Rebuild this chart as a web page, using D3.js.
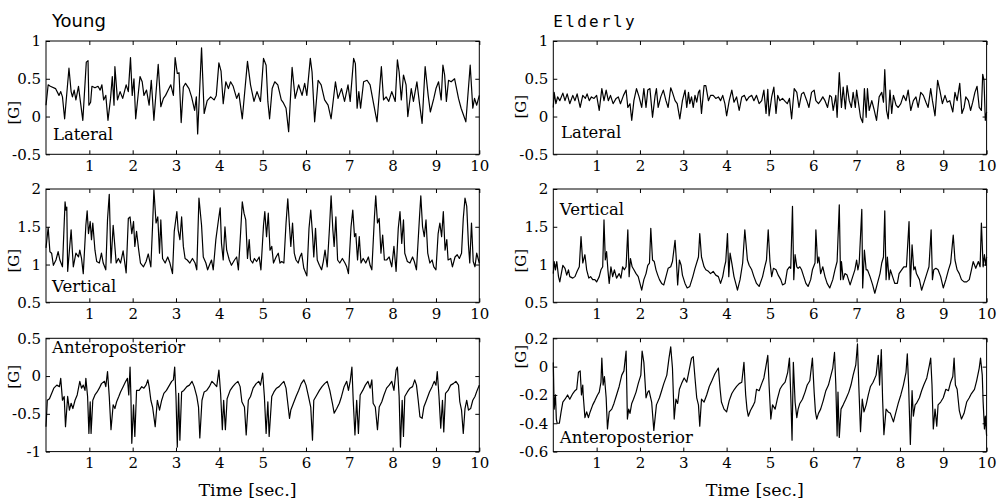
<!DOCTYPE html>
<html>
<head>
<meta charset="utf-8">
<script src="https://cdn.jsdelivr.net/npm/d3@7"></script>
<style>
  body { margin: 0; background: #fff; }
  .tick text { font-family: "DejaVu Serif", serif; font-size: 15px; fill: #000; }
  .tick line { stroke: #000; stroke-width: 1; }
</style>
</head>
<body>
<div id="main"></div>
<script>
var ctx = {
    w: 1002,
    h: 502,
    colX: [46, 553.3],
    rowY: [41, 189, 338.3],
    pw: 433.3,
    ph: 113.3,
    tickLen: 4,
};

var timeTicks = [1, 2, 3, 4, 5, 6, 7, 8, 9, 10];
var groupTitles = ["Young", "Elderly"];
var axisNames = ["Lateral", "Vertical", "Anteroposterior"];

// [time (s), acceleration (G)]
var youngLateral = [[0,0.15],[0.05,0.42],[0.10,0.40],[0.22,0.37],[0.30,0.28],[0.34,0.33],[0.38,0.26],[0.43,-0.03],[0.53,0.64],[0.58,0.33],[0.61,0.26],[0.65,0.35],[0.69,0.22],[0.75,0.40],[0.80,0.17],[0.85,-0.05],[0.93,0.72],[0.97,0.74],[0.99,0.15],[1.03,0.19],[1.06,0.40],[1.13,0.38],[1.20,0.40],[1.25,0.35],[1.29,0.42],[1.33,0.22],[1.38,0.28],[1.43,-0.05],[1.49,0.24],[1.53,0.53],[1.57,0.15],[1.59,0.66],[1.65,0.22],[1.71,0.33],[1.77,0.24],[1.85,0.42],[1.90,0.33],[1.95,0.78],[1.99,0.28],[2.03,0.50],[2.07,-0.03],[2.17,0.53],[2.22,0.46],[2.26,0.28],[2.32,0.35],[2.38,0.15],[2.43,0.48],[2.49,-0.05],[2.59,0.69],[2.65,0.13],[2.71,0.24],[2.76,0.28],[2.82,0.35],[2.88,0.42],[2.94,0.28],[2.98,0.78],[3.03,0.57],[3.07,0.58],[3.12,-0.08],[3.17,0.39],[3.22,0.44],[3.30,0.37],[3.36,0.26],[3.43,0.08],[3.47,0.26],[3.50,-0.23],[3.59,0.91],[3.65,0.04],[3.72,0.21],[3.80,0.26],[3.88,0.22],[3.93,0.28],[3.99,0.71],[4.04,0.60],[4.09,0.17],[4.15,0.46],[4.21,0.37],[4.26,0.46],[4.32,0.40],[4.40,0.24],[4.45,0.31],[4.53,-0.03],[4.65,0.73],[4.72,0.42],[4.80,0.20],[4.87,0.33],[4.95,0.20],[5.02,0.77],[5.08,0.68],[5.12,0.20],[5.16,-0.03],[5.22,0.37],[5.28,0.46],[5.35,0.42],[5.43,0.22],[5.48,0.18],[5.54,0.11],[5.60,-0.20],[5.68,0.65],[5.75,0.24],[5.83,0.42],[5.91,0.28],[5.97,0.44],[6.02,0.28],[6.10,0.77],[6.14,0.59],[6.20,-0.07],[6.28,0.48],[6.35,0.42],[6.43,0.22],[6.51,0.15],[6.58,-0.03],[6.68,0.46],[6.74,0.24],[6.82,0.37],[6.89,0.20],[6.97,0.42],[7.02,0.20],[7.10,0.77],[7.14,0.70],[7.18,0.11],[7.22,0.33],[7.26,0.11],[7.33,0.46],[7.41,0.48],[7.48,0.42],[7.56,0.17],[7.64,-0.07],[7.74,0.66],[7.79,0.22],[7.85,0.26],[7.91,0.20],[7.98,0.33],[8.06,0.20],[8.11,0.75],[8.15,0.59],[8.20,0.22],[8.25,0.55],[8.31,0.42],[8.35,0.0],[8.43,0.37],[8.48,0.20],[8.56,0.46],[8.62,0.17],[8.68,-0.09],[8.75,0.66],[8.82,0.28],[8.87,0.06],[8.95,0.24],[9.00,0.37],[9.06,0.46],[9.12,0.22],[9.16,0.68],[9.20,0.55],[9.24,0.20],[9.29,0.48],[9.35,0.46],[9.43,0.50],[9.52,0.24],[9.58,0.11],[9.69,-0.07],[9.79,0.68],[9.85,0.11],[9.89,0.24],[9.94,0.15],[10.0,0.28]];

var youngVertical = [[0,1.22],[0.05,1.49],[0.09,1.17],[0.13,1.15],[0.17,0.99],[0.23,1.06],[0.28,1.17],[0.32,1.06],[0.38,0.97],[0.44,1.83],[0.46,1.72],[0.48,1.76],[0.50,0.91],[0.58,1.46],[0.63,0.97],[0.69,1.15],[0.75,1.10],[0.78,1.19],[0.82,1.08],[0.86,0.88],[0.92,1.52],[0.95,1.71],[0.98,1.41],[1.02,1.57],[1.05,1.33],[1.08,1.55],[1.13,1.19],[1.17,1.04],[1.23,1.02],[1.28,1.15],[1.32,1.02],[1.38,0.93],[1.42,1.60],[1.46,1.93],[1.50,1.02],[1.55,1.52],[1.62,1.02],[1.67,1.08],[1.72,1.02],[1.78,1.18],[1.85,0.89],[1.90,1.61],[1.94,1.63],[1.98,1.41],[2.02,1.57],[2.05,1.24],[2.09,1.44],[2.14,1.19],[2.18,1.02],[2.25,0.97],[2.31,1.04],[2.36,1.14],[2.42,0.97],[2.46,1.52],[2.49,1.99],[2.54,1.55],[2.58,1.63],[2.62,1.15],[2.65,1.59],[2.69,1.08],[2.75,1.02],[2.81,1.10],[2.86,1.02],[2.92,0.88],[2.96,1.44],[3.02,1.70],[3.05,1.46],[3.09,1.33],[3.13,1.63],[3.17,1.24],[3.21,1.08],[3.26,1.06],[3.32,1.02],[3.38,1.08],[3.44,1.02],[3.48,0.93],[3.53,1.88],[3.59,1.52],[3.63,1.10],[3.69,1.02],[3.73,0.93],[3.77,0.99],[3.82,1.06],[3.86,0.93],[3.92,1.33],[3.98,1.59],[4.02,1.75],[4.05,1.28],[4.09,1.06],[4.13,1.50],[4.17,1.19],[4.23,1.06],[4.28,0.99],[4.35,1.06],[4.40,1.10],[4.44,0.93],[4.49,1.41],[4.53,1.83],[4.57,1.68],[4.61,1.59],[4.65,1.08],[4.69,1.33],[4.72,1.06],[4.77,1.02],[4.81,1.08],[4.86,1.04],[4.92,1.10],[4.96,0.93],[5.02,1.52],[5.05,1.70],[5.09,1.37],[5.13,1.68],[5.17,1.19],[5.21,1.24],[5.25,1.02],[5.31,1.10],[5.36,1.15],[5.40,1.02],[5.44,1.04],[5.49,1.02],[5.54,1.55],[5.58,1.87],[5.62,1.50],[5.65,1.24],[5.69,1.55],[5.73,1.15],[5.77,1.06],[5.82,1.02],[5.86,1.10],[5.90,1.15],[5.95,0.95],[6.02,0.85],[6.07,1.48],[6.11,1.72],[6.15,1.41],[6.18,1.10],[6.22,1.48],[6.26,1.06],[6.31,0.99],[6.36,0.93],[6.40,1.04],[6.44,1.19],[6.49,0.97],[6.54,1.46],[6.58,1.91],[6.62,1.46],[6.65,1.24],[6.69,1.63],[6.73,1.06],[6.78,1.02],[6.84,1.08],[6.90,1.02],[6.94,0.97],[6.98,0.88],[7.04,1.50],[7.08,1.72],[7.12,1.37],[7.15,1.41],[7.19,1.06],[7.23,1.37],[7.27,1.02],[7.32,1.08],[7.38,1.02],[7.44,1.10],[7.48,0.99],[7.52,0.93],[7.58,1.63],[7.61,1.91],[7.65,1.55],[7.69,1.61],[7.73,1.15],[7.77,1.39],[7.81,1.06],[7.86,1.06],[7.92,1.10],[7.98,0.97],[8.03,1.24],[8.08,0.91],[8.13,1.48],[8.17,1.70],[8.21,1.28],[8.25,1.59],[8.28,1.15],[8.34,1.04],[8.40,1.02],[8.46,1.10],[8.50,1.04],[8.55,0.93],[8.62,1.63],[8.65,1.91],[8.69,1.50],[8.73,1.37],[8.77,1.59],[8.81,1.15],[8.86,1.02],[8.91,1.06],[8.95,0.97],[9.00,0.93],[9.05,1.41],[9.09,1.55],[9.13,1.37],[9.17,1.70],[9.21,1.19],[9.25,1.33],[9.28,1.06],[9.34,1.08],[9.38,0.97],[9.44,1.10],[9.49,1.13],[9.54,1.08],[9.59,1.15],[9.63,1.61],[9.67,1.88],[9.71,1.77],[9.75,1.26],[9.78,1.02],[9.82,1.55],[9.86,1.04],[9.90,0.97],[9.94,1.15],[10.0,1.02]];

var youngAP = [[0,-0.67],[0.03,-0.32],[0.08,-0.30],[0.13,-0.23],[0.18,-0.16],[0.25,-0.12],[0.31,-0.14],[0.34,-0.03],[0.38,-0.32],[0.42,-0.27],[0.45,-0.67],[0.50,-0.27],[0.54,-0.45],[0.58,-0.36],[0.62,-0.43],[0.67,-0.32],[0.72,-0.25],[0.78,-0.07],[0.82,-0.16],[0.86,-0.12],[0.90,-0.19],[0.92,-0.03],[0.96,-0.27],[0.99,-0.76],[1.02,-0.34],[1.04,-0.76],[1.08,-0.32],[1.13,-0.25],[1.18,-0.21],[1.23,-0.16],[1.28,-0.10],[1.35,-0.07],[1.38,-0.14],[1.42,0.06],[1.46,-0.27],[1.50,-0.71],[1.55,-0.38],[1.59,-0.43],[1.63,-0.34],[1.68,-0.27],[1.72,-0.21],[1.78,-0.14],[1.84,-0.07],[1.88,-0.03],[1.91,-0.25],[1.94,0.12],[1.96,-0.27],[1.98,-0.89],[2.02,-0.38],[2.05,-0.80],[2.09,-0.19],[2.15,-0.19],[2.21,-0.14],[2.26,-0.16],[2.31,-0.12],[2.35,-0.05],[2.38,-0.14],[2.42,-0.32],[2.46,-0.41],[2.52,-0.67],[2.57,-0.32],[2.62,-0.45],[2.67,-0.32],[2.72,-0.23],[2.78,-0.19],[2.85,-0.12],[2.90,-0.07],[2.94,-0.05],[2.97,0.12],[3.00,-0.27],[3.03,-0.94],[3.06,-0.23],[3.09,-0.85],[3.13,-0.21],[3.18,-0.19],[3.25,-0.14],[3.31,-0.12],[3.37,-0.07],[3.42,-0.14],[3.48,-0.27],[3.52,-0.41],[3.55,-0.82],[3.60,-0.32],[3.65,-0.21],[3.71,-0.19],[3.77,-0.14],[3.83,-0.07],[3.88,-0.10],[3.94,-0.14],[3.99,0.08],[4.03,-0.23],[4.07,-0.71],[4.10,-0.32],[4.14,-0.71],[4.18,-0.30],[4.25,-0.19],[4.31,-0.14],[4.37,-0.10],[4.43,-0.07],[4.48,-0.14],[4.52,-0.34],[4.58,-0.41],[4.62,-0.78],[4.67,-0.32],[4.72,-0.27],[4.78,-0.16],[4.85,-0.10],[4.91,-0.07],[4.95,-0.12],[5.00,0.04],[5.04,-0.27],[5.08,-0.76],[5.12,-0.34],[5.15,-0.80],[5.21,-0.27],[5.26,-0.21],[5.32,-0.16],[5.38,-0.14],[5.44,-0.10],[5.49,-0.07],[5.54,-0.16],[5.58,-0.36],[5.62,-0.56],[5.65,-0.45],[5.71,-0.36],[5.77,-0.27],[5.83,-0.19],[5.89,-0.10],[5.95,-0.05],[6.00,-0.12],[6.05,-0.25],[6.11,-0.41],[6.15,-0.85],[6.18,-0.32],[6.25,-0.25],[6.31,-0.19],[6.37,-0.14],[6.43,-0.10],[6.49,-0.07],[6.55,-0.19],[6.61,-0.36],[6.65,-0.49],[6.71,-0.43],[6.77,-0.36],[6.82,-0.27],[6.88,-0.14],[6.94,-0.07],[6.98,-0.19],[7.02,-0.07],[7.06,0.12],[7.09,-0.32],[7.13,-0.78],[7.17,-0.32],[7.21,-0.76],[7.25,-0.25],[7.31,-0.19],[7.37,-0.12],[7.43,-0.07],[7.48,-0.16],[7.52,-0.05],[7.55,-0.36],[7.60,-0.41],[7.65,-0.71],[7.69,-0.41],[7.75,-0.34],[7.80,-0.25],[7.86,-0.16],[7.92,-0.12],[7.98,-0.07],[8.03,-0.19],[8.08,0.08],[8.11,0.12],[8.15,-0.27],[8.18,-0.94],[8.22,-0.32],[8.25,-0.80],[8.28,-0.27],[8.34,-0.21],[8.40,-0.16],[8.46,-0.14],[8.51,-0.05],[8.55,-0.12],[8.59,-0.32],[8.63,-0.54],[8.68,-0.56],[8.72,-0.41],[8.78,-0.32],[8.85,-0.21],[8.91,-0.14],[8.96,-0.07],[9.00,-0.12],[9.03,0.06],[9.07,-0.27],[9.11,-0.69],[9.15,-0.32],[9.18,-0.74],[9.22,-0.23],[9.28,-0.19],[9.34,-0.12],[9.40,-0.10],[9.46,-0.07],[9.52,-0.12],[9.55,-0.34],[9.59,-0.45],[9.63,-0.76],[9.67,-0.43],[9.71,-0.32],[9.75,-0.45],[9.80,-0.43],[9.85,-0.32],[9.90,-0.27],[9.95,-0.19],[10.0,-0.12]];

var elderLateral = [[0,0.12],[0.02,0.32],[0.06,0.17],[0.10,0.26],[0.15,0.21],[0.22,0.31],[0.27,0.21],[0.32,0.30],[0.38,0.17],[0.45,0.28],[0.50,0.21],[0.55,0.30],[0.62,0.12],[0.68,0.28],[0.74,0.24],[0.78,0.30],[0.83,0.21],[0.88,0.26],[0.94,0.24],[1.00,0.28],[1.06,0.08],[1.12,0.37],[1.17,0.21],[1.22,0.35],[1.27,0.21],[1.32,0.28],[1.38,0.17],[1.45,0.24],[1.50,0.26],[1.55,0.17],[1.62,0.28],[1.68,0.35],[1.72,0.12],[1.77,0.17],[1.81,-0.05],[1.86,0.21],[1.92,0.37],[1.98,0.26],[2.04,0.12],[2.09,0.37],[2.14,0.12],[2.18,0.35],[2.23,0.37],[2.29,-0.01],[2.35,0.28],[2.38,0.37],[2.42,0.12],[2.48,0.26],[2.54,0.35],[2.60,0.21],[2.65,0.12],[2.71,0.38],[2.75,0.32],[2.81,0.21],[2.86,0.17],[2.92,-0.03],[2.98,0.21],[3.04,0.35],[3.08,0.12],[3.12,0.32],[3.15,0.17],[3.19,0.26],[3.23,0.12],[3.27,0.28],[3.31,0.19],[3.35,0.32],[3.38,0.35],[3.42,0.04],[3.48,0.41],[3.52,0.41],[3.58,0.21],[3.63,0.28],[3.69,0.28],[3.75,0.24],[3.81,0.26],[3.86,0.21],[3.91,0.28],[3.96,0.17],[4.00,0.01],[4.06,0.21],[4.12,0.35],[4.17,0.19],[4.23,0.26],[4.29,0.08],[4.35,0.26],[4.41,0.28],[4.46,0.21],[4.52,0.26],[4.58,0.28],[4.63,0.21],[4.69,0.28],[4.75,0.17],[4.81,0.21],[4.86,0.35],[4.91,0.04],[4.95,0.36],[4.98,0.01],[5.04,0.26],[5.09,0.39],[5.14,0.04],[5.18,0.28],[5.23,0.21],[5.29,0.24],[5.35,0.20],[5.40,0.17],[5.45,0.24],[5.50,-0.03],[5.56,0.37],[5.62,0.32],[5.67,0.12],[5.73,0.30],[5.78,0.32],[5.85,0.21],[5.90,0.12],[5.96,0.32],[6.02,0.35],[6.06,0.21],[6.12,0.17],[6.17,0.21],[6.22,0.26],[6.27,0.21],[6.33,0.12],[6.38,0.28],[6.42,0.26],[6.46,0.08],[6.52,0.28],[6.55,-0.01],[6.60,0.58],[6.65,0.12],[6.69,0.39],[6.74,0.10],[6.78,0.41],[6.83,0.21],[6.88,0.12],[6.92,0.32],[6.97,0.12],[7.00,0.35],[7.04,0.19],[7.09,-0.01],[7.14,-0.08],[7.18,0.37],[7.22,-0.01],[7.25,0.37],[7.29,0.08],[7.35,0.21],[7.40,0.10],[7.46,-0.05],[7.52,0.26],[7.58,0.32],[7.62,0.19],[7.65,0.62],[7.69,0.08],[7.73,-0.03],[7.77,0.35],[7.81,0.04],[7.85,0.28],[7.91,0.15],[7.96,0.12],[8.02,0.17],[8.08,0.28],[8.14,0.21],[8.19,0.35],[8.25,0.08],[8.31,0.21],[8.37,0.26],[8.42,0.12],[8.48,0.32],[8.54,0.28],[8.60,0.19],[8.65,0.12],[8.71,0.37],[8.75,0.21],[8.81,0.01],[8.87,0.48],[8.92,0.35],[8.98,0.17],[9.04,0.28],[9.09,0.19],[9.15,0.21],[9.22,0.06],[9.27,0.32],[9.32,0.21],[9.38,0.44],[9.43,0.04],[9.48,0.12],[9.52,0.26],[9.58,0.21],[9.63,0.08],[9.68,0.19],[9.73,0.32],[9.78,0.40],[9.83,0.12],[9.88,0.08],[9.91,0.56],[9.94,0.48],[9.97,-0.05],[10.0,0.06]];

var elderVertical = [[0,0.88],[0.02,1.04],[0.05,0.93],[0.08,1.04],[0.12,0.84],[0.15,0.77],[0.22,0.99],[0.27,0.95],[0.31,0.86],[0.35,0.93],[0.38,0.84],[0.45,0.82],[0.50,0.84],[0.55,0.91],[0.60,0.97],[0.64,1.37],[0.68,1.02],[0.73,1.13],[0.77,0.93],[0.82,0.82],[0.86,0.84],[0.91,0.80],[0.96,0.80],[1.00,0.77],[1.06,0.84],[1.10,0.93],[1.14,0.97],[1.17,1.59],[1.20,1.06],[1.23,1.17],[1.26,0.93],[1.29,0.75],[1.33,0.97],[1.37,0.84],[1.41,0.93],[1.46,0.82],[1.52,0.88],[1.56,0.82],[1.60,0.97],[1.64,0.93],[1.68,0.97],[1.72,1.46],[1.75,0.84],[1.78,1.08],[1.82,0.97],[1.86,0.93],[1.91,0.88],[1.96,0.84],[2.00,0.75],[2.04,0.66],[2.09,0.80],[2.14,0.88],[2.18,0.99],[2.22,1.02],[2.25,1.48],[2.29,1.06],[2.33,1.04],[2.37,0.93],[2.41,0.86],[2.45,0.80],[2.50,0.75],[2.55,0.73],[2.60,0.84],[2.65,0.95],[2.71,0.97],[2.75,1.04],[2.81,1.32],[2.84,1.06],[2.87,0.73],[2.91,1.06],[2.95,0.99],[2.98,0.86],[3.04,0.75],[3.09,0.69],[3.15,0.71],[3.22,0.84],[3.27,0.95],[3.35,1.10],[3.38,1.41],[3.42,1.10],[3.48,0.97],[3.52,0.93],[3.58,0.91],[3.63,0.88],[3.69,0.91],[3.75,0.86],[3.81,0.84],[3.86,0.75],[3.91,0.84],[3.95,0.97],[3.98,1.04],[4.02,1.41],[4.05,0.84],[4.08,1.15],[4.12,1.02],[4.17,0.84],[4.22,0.73],[4.25,0.66],[4.31,0.80],[4.37,1.02],[4.42,1.46],[4.48,1.06],[4.52,0.99],[4.58,0.93],[4.63,0.84],[4.69,0.75],[4.75,0.71],[4.83,0.84],[4.88,0.97],[4.92,1.06],[4.96,1.46],[5.00,1.04],[5.04,0.84],[5.08,0.95],[5.14,0.93],[5.19,0.86],[5.25,0.80],[5.29,0.73],[5.35,0.75],[5.40,0.93],[5.45,0.97],[5.48,0.95],[5.52,1.77],[5.55,0.80],[5.58,1.13],[5.62,0.97],[5.65,0.95],[5.69,0.97],[5.73,0.93],[5.78,0.84],[5.83,0.75],[5.88,0.71],[5.94,0.80],[5.98,0.93],[6.04,1.02],[6.06,1.46],[6.10,1.02],[6.13,1.10],[6.17,0.88],[6.22,0.97],[6.27,0.84],[6.32,0.75],[6.38,0.69],[6.45,0.80],[6.50,0.93],[6.55,1.04],[6.60,1.79],[6.63,0.80],[6.65,1.04],[6.69,0.80],[6.73,0.88],[6.78,0.86],[6.85,0.73],[6.91,0.84],[6.96,0.93],[7.00,1.06],[7.03,0.93],[7.06,1.02],[7.12,1.73],[7.14,0.69],[7.18,1.19],[7.22,0.93],[7.25,0.93],[7.31,0.84],[7.37,0.73],[7.42,0.62],[7.48,0.75],[7.54,0.88],[7.58,1.02],[7.62,1.10],[7.65,1.71],[7.68,0.80],[7.71,1.10],[7.75,0.80],[7.78,0.93],[7.83,0.84],[7.88,0.75],[7.94,0.75],[7.98,0.88],[8.04,0.93],[8.09,0.97],[8.15,0.97],[8.21,1.57],[8.24,0.71],[8.28,1.26],[8.32,0.93],[8.35,0.97],[8.38,0.88],[8.45,0.80],[8.50,0.66],[8.55,0.75],[8.62,0.88],[8.67,0.97],[8.72,1.46],[8.75,0.80],[8.78,0.93],[8.83,0.95],[8.88,0.93],[8.94,0.84],[9.00,0.69],[9.06,0.80],[9.12,0.93],[9.17,1.02],[9.23,1.39],[9.27,1.06],[9.32,0.93],[9.37,0.88],[9.42,0.80],[9.48,0.77],[9.54,0.77],[9.60,0.80],[9.65,0.93],[9.69,1.04],[9.75,0.95],[9.81,1.04],[9.85,0.97],[9.88,1.55],[9.92,0.97],[9.95,1.13],[9.98,0.99],[10.0,1.10]];

var elderAP = [[0,0.03],[0.02,-0.30],[0.05,-0.20],[0.07,-0.37],[0.09,-0.40],[0.14,-0.40],[0.18,-0.32],[0.22,-0.25],[0.27,-0.23],[0.33,-0.20],[0.38,-0.23],[0.45,-0.19],[0.50,-0.17],[0.54,-0.16],[0.58,-0.04],[0.62,-0.03],[0.65,-0.20],[0.68,-0.13],[0.69,-0.20],[0.73,-0.36],[0.77,-0.32],[0.81,-0.36],[0.85,-0.32],[0.91,-0.27],[0.96,-0.24],[1.02,-0.20],[1.06,-0.18],[1.10,-0.11],[1.12,0.06],[1.15,-0.13],[1.18,-0.07],[1.22,-0.22],[1.25,-0.44],[1.29,-0.32],[1.35,-0.30],[1.40,-0.26],[1.46,-0.20],[1.52,-0.14],[1.58,-0.06],[1.63,-0.03],[1.68,0.11],[1.71,-0.37],[1.74,-0.30],[1.77,-0.33],[1.81,-0.26],[1.85,-0.23],[1.91,-0.18],[1.96,-0.12],[2.02,-0.06],[2.05,0.11],[2.09,0.03],[2.14,-0.22],[2.18,-0.18],[2.21,-0.17],[2.27,-0.25],[2.32,-0.45],[2.38,-0.27],[2.45,-0.22],[2.50,-0.17],[2.55,-0.12],[2.62,-0.06],[2.67,0.06],[2.71,0.14],[2.75,-0.01],[2.79,-0.37],[2.83,-0.23],[2.87,-0.26],[2.91,-0.16],[2.96,-0.12],[3.02,-0.08],[3.08,-0.11],[3.12,-0.05],[3.19,0.06],[3.23,0.07],[3.27,-0.08],[3.31,-0.22],[3.35,-0.27],[3.38,-0.42],[3.42,-0.23],[3.48,-0.25],[3.54,-0.20],[3.60,-0.14],[3.66,-0.10],[3.73,-0.05],[3.81,-0.01],[3.85,-0.16],[3.88,-0.25],[3.94,-0.30],[4.00,-0.32],[4.06,-0.24],[4.12,-0.19],[4.18,-0.16],[4.23,-0.14],[4.29,-0.12],[4.35,-0.11],[4.40,0.03],[4.44,-0.20],[4.47,-0.30],[4.50,-0.35],[4.55,-0.31],[4.62,-0.27],[4.65,-0.25],[4.69,-0.16],[4.75,-0.17],[4.81,-0.12],[4.86,-0.08],[4.90,-0.01],[4.95,0.08],[4.98,-0.13],[5.02,-0.37],[5.06,-0.27],[5.12,-0.30],[5.17,-0.23],[5.23,-0.16],[5.29,-0.13],[5.35,-0.11],[5.41,-0.04],[5.45,0.06],[5.48,-0.20],[5.51,-0.52],[5.54,0.03],[5.58,-0.25],[5.62,-0.36],[5.65,-0.30],[5.69,-0.26],[5.75,-0.23],[5.81,-0.18],[5.86,-0.13],[5.92,-0.10],[5.98,0.06],[6.02,-0.18],[6.05,-0.32],[6.08,-0.37],[6.12,-0.33],[6.17,-0.30],[6.23,-0.24],[6.29,-0.17],[6.35,-0.13],[6.40,-0.07],[6.45,-0.01],[6.49,0.10],[6.52,-0.13],[6.55,-0.49],[6.57,-0.18],[6.60,-0.50],[6.64,-0.30],[6.69,-0.27],[6.75,-0.23],[6.82,-0.18],[6.87,-0.13],[6.92,-0.06],[6.98,0.01],[7.02,0.16],[7.05,-0.13],[7.09,-0.46],[7.13,-0.23],[7.17,-0.32],[7.22,-0.27],[7.27,-0.20],[7.32,-0.14],[7.38,-0.11],[7.45,-0.06],[7.50,0.08],[7.53,-0.13],[7.57,0.12],[7.60,-0.23],[7.63,-0.48],[7.68,-0.30],[7.73,-0.32],[7.78,-0.33],[7.85,-0.39],[7.90,-0.33],[7.96,-0.26],[8.02,-0.20],[8.08,-0.13],[8.14,-0.04],[8.17,0.09],[8.20,-0.13],[8.24,-0.55],[8.28,-0.17],[8.31,-0.35],[8.35,-0.27],[8.38,-0.26],[8.45,-0.22],[8.50,-0.17],[8.55,-0.13],[8.62,-0.08],[8.68,0.01],[8.71,0.06],[8.74,-0.13],[8.77,-0.44],[8.81,-0.30],[8.85,-0.42],[8.88,-0.27],[8.94,-0.25],[9.00,-0.22],[9.06,-0.16],[9.12,-0.17],[9.17,-0.11],[9.22,-0.07],[9.25,0.06],[9.28,-0.13],[9.32,-0.16],[9.37,-0.31],[9.42,-0.37],[9.48,-0.33],[9.54,-0.25],[9.60,-0.22],[9.65,-0.19],[9.72,-0.16],[9.77,-0.10],[9.83,-0.01],[9.86,0.06],[9.90,-0.06],[9.92,-0.25],[9.95,-0.44],[9.97,-0.35],[10.0,-0.49]];

var latTicks = [-0.5, 0, 0.5, 1];
var vertTicks = [0.5, 1, 1.5, 2];
var youngApTicks = [-1, -0.5, 0, 0.5];
var elderApTicks = [-0.6, -0.4, -0.2, 0, 0.2];

// one entry per panel; name label and [G] positions in data units
var panels = [
    {col: 0, row: 0, data: youngLateral, ticks: latTicks, name: axisNames[0], nameAt: [0.16, -0.31], gAt: 0.05},
    {col: 0, row: 1, data: youngVertical, ticks: vertTicks, name: axisNames[1], nameAt: [0.14, 0.63], gAt: 1.05},
    {col: 0, row: 2, data: youngAP, ticks: youngApTicks, name: axisNames[2], nameAt: [0.14, 0.31], gAt: -0.01},
    {col: 1, row: 0, data: elderLateral, ticks: latTicks, name: axisNames[0], nameAt: [0.18, -0.28], gAt: 0.13},
    {col: 1, row: 1, data: elderVertical, ticks: vertTicks, name: axisNames[1], nameAt: [0.15, 1.66], gAt: 1.05},
    {col: 1, row: 2, data: elderAP, ticks: elderApTicks, name: axisNames[2], nameAt: [0.15, -0.54], gAt: 0.07},
];

var drawPanel = function(svgEl, p){
    var x0 = ctx.colX[p.col], y0 = ctx.rowY[p.row];
    var g = svgEl.append("g").attr("transform", "translate(" + x0 + "," + y0 + ")");
    var x = d3.scaleLinear().domain([0, 10]).range([0, ctx.pw]);
    var y = d3.scaleLinear().domain(d3.extent(p.ticks)).range([ctx.ph, 0]);

    var line = d3.line().x(d => x(d[0])).y(d => y(d[1]));
    g.append("path")
        .datum(p.data)
        .attr("d", line)
        .attr("fill", "none")
        .attr("stroke", "#000")
        .attr("stroke-width", 1.2)
        .attr("stroke-linejoin", "round");

    // inward ticks on all four sides, labels only bottom and left
    var fmt = d => String(d);
    g.append("g").attr("transform", "translate(0," + ctx.ph + ")")
        .call(d3.axisBottom(x).tickValues(timeTicks).tickSize(-ctx.tickLen).tickPadding(6).tickFormat(fmt));
    g.append("g")
        .call(d3.axisTop(x).tickValues(timeTicks).tickSize(-ctx.tickLen).tickFormat(""));
    g.append("g")
        .call(d3.axisLeft(y).tickValues(p.ticks).tickSize(-ctx.tickLen).tickPadding(5).tickFormat(fmt));
    g.append("g").attr("transform", "translate(" + ctx.pw + ",0)")
        .call(d3.axisRight(y).tickValues(p.ticks).tickSize(-ctx.tickLen).tickFormat(""));
    g.selectAll(".domain").remove();

    g.append("rect")
        .attr("width", ctx.pw).attr("height", ctx.ph)
        .attr("fill", "none").attr("stroke", "#000").attr("stroke-width", 1);

    g.append("text")
        .attr("x", x(p.nameAt[0])).attr("y", y(p.nameAt[1]))
        .attr("font-family", "DejaVu Serif, serif").attr("font-size", 16.5)
        .text(p.name);

    g.append("text")
        .attr("transform", "translate(-27," + y(p.gAt) + ") rotate(-90)")
        .attr("text-anchor", "middle")
        .attr("font-family", "DejaVu Serif, serif").attr("font-size", 15)
        .text("[G]");

    if (p.row == 2){
        g.append("text")
            .attr("x", x(4.65)).attr("y", ctx.ph + 44)
            .attr("text-anchor", "middle")
            .attr("font-family", "DejaVu Serif, serif").attr("font-size", 17.5)
            .text("Time [sec.]");
    }
};

var createViz = function(){
    var svgEl = d3.select("#main").append("svg")
        .attr("width", ctx.w).attr("height", ctx.h);
    svgEl.append("text")
        .attr("x", ctx.colX[0] + 6).attr("y", 27)
        .attr("font-family", "DejaVu Sans, sans-serif").attr("font-size", 18)
        .text(groupTitles[0]);
    svgEl.append("text")
        .attr("x", ctx.colX[1]).attr("y", 27)
        .attr("font-family", "DejaVu Sans Mono, monospace").attr("font-size", 16)
        .attr("letter-spacing", 2.3)
        .text(groupTitles[1]);
    panels.forEach(p => drawPanel(svgEl, p));
};

createViz();
</script>
</body>
</html>
